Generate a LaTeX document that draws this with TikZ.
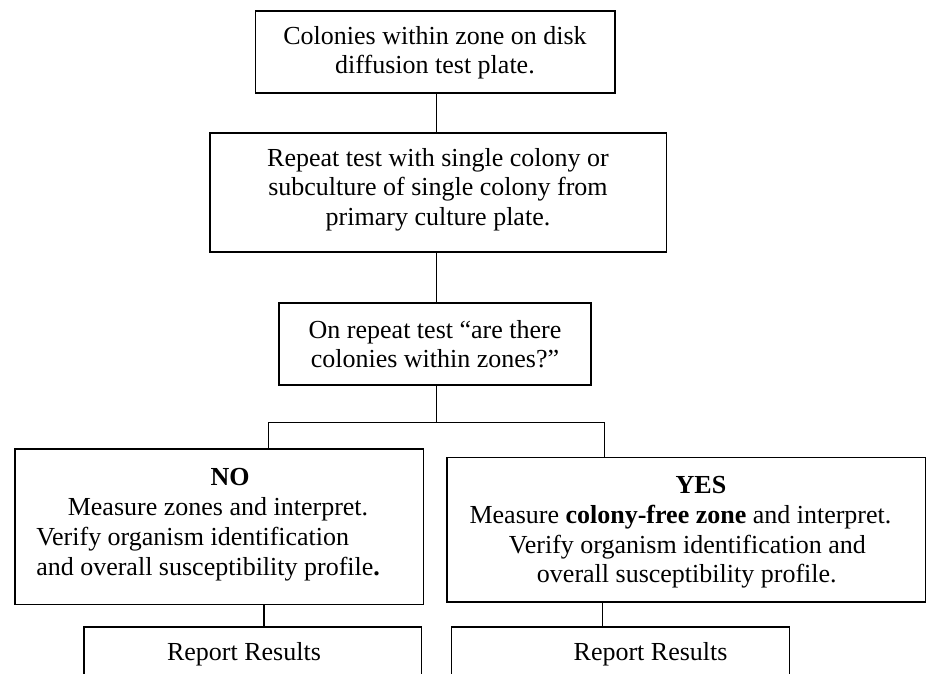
\documentclass[tikz,border=0pt]{standalone}
\usepackage{fontspec}
\setmainfont{Liberation Serif}
\begin{document}
\begin{tikzpicture}[x=1pt,y=-1pt,
  line width=1.5pt,
  box/.style={draw=black, rectangle, inner sep=0pt},
  txt/.style={inner sep=0pt, align=center, font=\fontsize{26}{29.3}\selectfont},
  ln/.style={inner sep=0pt, font=\fontsize{26}{29.3}\selectfont, text height=18pt, text depth=5.5pt},
  conn/.style={draw=black, line width=1.5pt}]
\useasboundingbox (0,0) rectangle (927,673);
% boxes
\node[box, minimum width=359.5pt, minimum height=82pt] (top) at (435.25,52) {};
\node[box, minimum width=456.5pt, minimum height=119pt] (box2) at (438.25,192.5) {};
\node[box, minimum width=312pt, minimum height=82pt] (box3) at (435,344) {};
\node[box, minimum width=408.6pt, minimum height=155.3pt] (no) at (219.1,526.65) {};
\node[box, minimum width=478.5pt, minimum height=144.3pt] (yes) at (686.25,529.85) {};
\node[inner sep=0pt, minimum width=336pt, minimum height=46pt] (repL) at (252.5,650.7) {};
\node[inner sep=0pt, minimum width=336.5pt, minimum height=46pt] (repR) at (620.65,650.7) {};
\draw (repL.south west) -- (repL.north west) -- (repL.north east) -- (repL.south east);
\draw (repR.south west) -- (repR.north west) -- (repR.north east) -- (repR.south east);
% texts
\node[txt] (t1) at (435,53) {Colonies within zone on disk\\diffusion test plate.};
\node[txt] (t2) at (438,189.5) {Repeat test with single colony or\\subculture of single colony from\\primary culture plate.};
\node[txt] (t3) at (435,344) {On repeat test ``are there\\colonies within zones?''};
\node[ln] (n0) at (230,479.5) {\textbf{NO}};
\node[ln] (n1) at (218,509.5) {Measure zones and interpret.};
\node[ln, anchor=west] (n2) at (35.5,539.5) {Verify organism identification};
\node[ln, anchor=west] (n3) at (35.5,569.5) {and overall susceptibility profile\textbf{.}};
\node[ln] (y0) at (701,487.5) {\textbf{YES}};
\node[ln] (y1) at (680.5,517.5) {Measure \textbf{colony-free zone} and interpret.};
\node[ln] (y2) at (687.4,547.5) {Verify organism identification and};
\node[ln] (y3) at (686.8,576) {overall susceptibility profile.};
\node[ln] (r1) at (244,654) {Report Results};
\node[ln] (r2) at (650.6,654) {Report Results};
% connectors
\coordinate (sp) at (436.4,0);
\coordinate (jl) at (268.5,422.3);
\coordinate (jr) at (604.4,422.3);
\coordinate (dl) at (264,0);
\coordinate (dr) at (602.6,0);
\draw[conn] (top.south -| sp) -- (box2.north -| sp);
\draw[conn] (box2.south -| sp) -- (box3.north -| sp);
\draw[conn] (box3.south -| sp) -- (sp |- jl);
\draw[conn] (no.north -| jl) -- (jl) -- (jr) -- (yes.north -| jr);
\draw[conn] (no.south -| dl) -- (repL.north -| dl);
\draw[conn] (yes.south -| dr) -- (repR.north -| dr);
\end{tikzpicture}
\end{document}
